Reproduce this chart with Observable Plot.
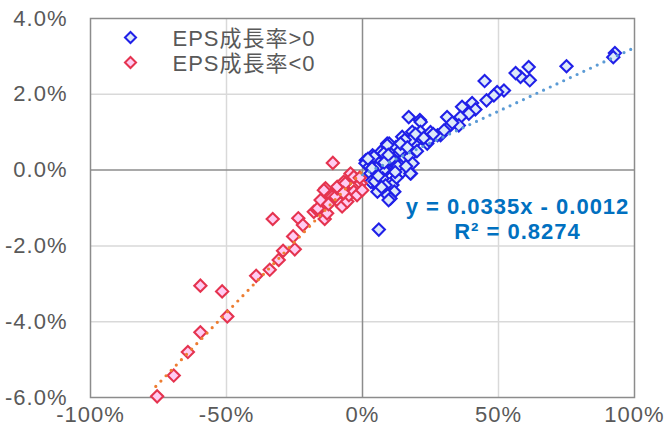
<!DOCTYPE html>
<html>
<head>
<meta charset="utf-8">
<script src="https://cdn.jsdelivr.net/npm/d3@7"></script>
<script src="https://cdn.jsdelivr.net/npm/@observablehq/plot@0.6"></script>
<style>
  html, body { margin: 0; padding: 0; background: #fff; }
  #chart { width: 665px; height: 436px; }
</style>
</head>
<body>
<div id="chart"></div>
<script>
// ---- Data (percent units) ----
const posX = [92.8, 92.2, 75.0, 61.1, 61.5, 58.1, 56.3, 52.0, 49.5, 48.3, 45.6, 44.9, 40.3, 41.5, 36.6, 39.1, 36.0, 31.1, 35.4, 31.7,
  28.7, 27.6, 17.0, 21.1, 21.4, 21.3, 18.3, 14.6, 23.8, 20.1, 24.4, 18.9, 17.8, 9.1, 9.8, 14.6, 12.3, 15.8, 8.0, 9.1,
  6.7, 7.8, 13.5, 3.7, 4.2, 15.2, 17.2, 1.2, 11.7, 11.5, 6.1, 18.4, 1.1, 2.5, 8.6, 7.8, 14.7, 17.8, 17.6, 3.7,
  2.9, 7.4, 3.1, 11.0, 6.1, 11.7, 5.5, 9.2, 10.3, 9.6, 6.0, 13.0, 5.0, 20.0, 25.0, 33.0, 4.5, 12.5, 16.0, 2.0, 8.5,
  10.5, 13.8, 19.5, 22.5, 5.8, 3.5, 8.0, 15.5, 12.0, 26.0, 30.0, 7.0, 9.5, 14.0, 16.5];
const posY = [3.09, 2.98, 2.74, 2.72, 2.37, 2.46, 2.56, 2.10, 2.06, 1.97, 1.84, 2.35, 1.77, 1.60, 1.67, 1.49, 1.40, 1.40, 1.18, 1.14,
  0.92, 0.92, 1.40, 1.32, 1.27, 1.01, 1.01, 0.88, 0.70, 0.79, 0.79, 0.70, 0.79, 0.70, 0.70, 0.61, 0.61, 0.57, 0.57, 0.66,
  0.48, 0.44, 0.44, 0.39, 0.35, 0.35, 0.35, 0.26, 0.26, 0.18, 0.18, 0.18, 0.18, 0.09, 0.00, 0.00, -0.04, -0.09, -0.09, -0.09,
  -0.09, -0.22, -0.31, -0.39, -0.48, -0.57, -0.57, -0.66, -0.75, -0.79, -1.57, 0.10, 0.05, 0.50, 1.00, 1.25, -0.30, -0.20, 0.10, 0.30, -0.40,
  0.30, 0.52, 0.95, 0.85, -0.15, 0.05, 0.20, 0.80, -0.05, 0.95, 1.05, -0.45, 0.40, 0.70, 0.60];

const negX = [-75.5, -69.4, -64.2, -59.6, -49.7, -51.6, -59.6, -39.1, -34.1, -30.8, -29.2, -24.9, -25.5, -33.0, -23.6, -21.9, -13.9, -10.9,
  -17.9, -16.7, -15.4, -13.0, -14.8, -16.4, -13.6, -14.2, -15.4, -11.1, -9.9, -9.3, -9.3, -8.1, -7.5, -6.9, -6.3, -5.6, -5.0, -5.0,
  -4.4, -3.2, -3.2, -2.0, -0.7, -0.1, -1.0, -12.5, -7.0];
const negY = [-5.97, -5.42, -4.80, -4.28, -3.86, -3.20, -3.05, -2.79, -2.63, -2.37, -2.13, -2.09, -1.75, -1.29, -1.27, -1.45, -1.29, 0.19,
  -1.10, -1.05, -0.96, -1.14, -0.79, -1.01, -0.48, -0.53, -0.79, -0.70, -0.70, -0.48, -0.44, -0.88, -0.96, -0.31, -0.35, -0.83, -0.61, -0.66,
  -0.09, -0.18, -0.57, -0.66, -0.35, -0.53, -0.20, -0.90, -0.60];

// Trend lines (fractional coefficients) and their x-ranges in percent
const posTrend = { slope: 0.0335, intercept: -0.0012, xRange: [0, 100] };
const negTrend = { slope: 0.0747, intercept: -0.0003, xRange: [-76, 0] };

const seriesNames = ["EPS成長率>0", "EPS成長率<0"];
const eqLines = ["y = 0.0335x - 0.0012", "R² = 0.8274"];

const xTicks = [-100, -50, 0, 50, 100];
const yTicks = [4, 2, 0, -2, -4, -6];

// ---- Build tables ----
const pos = posX.map((x, i) => ({x, y: posY[i]}));
const neg = negX.map((x, i) => ({x, y: negY[i]}));
const trendPts = t => t.xRange.map(x => ({x, y: (t.slope * x / 100 + t.intercept) * 100}));

const BLUE_S = "#2020e8", BLUE_F = "#dde9f8";
const RED_S = "#e5334f", RED_F = "#ffccf2";
const FONT = "'Liberation Sans', Arial, 'Noto Sans CJK JP', sans-serif";

const chart = Plot.plot({
  width: 665,
  height: 436,
  marginLeft: 90,
  marginRight: 31,
  marginTop: 18,
  marginBottom: 39,
  style: { fontFamily: FONT, fontSize: "22px", color: "#595959", background: "#fff", overflow: "visible" },
  x: { domain: [-100, 100] },
  y: { domain: [-6, 4] },
  marks: [
    Plot.gridX([-50, 50], { stroke: "#d9d9d9", strokeOpacity: 1, strokeWidth: 1.5 }),
    Plot.gridY([2, -2, -4], { stroke: "#d9d9d9", strokeOpacity: 1, strokeWidth: 1.5 }),
    Plot.ruleX([0], { stroke: "#8c8c8c", strokeWidth: 1.5 }),
    Plot.ruleY([0], { stroke: "#8c8c8c", strokeWidth: 1.5 }),
    Plot.frame({ stroke: "#8c8c8c", strokeWidth: 1.5 }),
    Plot.axisX(xTicks, { tickSize: 0, tickPadding: 9, tickFormat: d => d + "%", label: null, fill: "#595959", fontSize: 22 }),
    Plot.axisY(yTicks, { tickSize: 0, tickPadding: 23, tickFormat: d => d.toFixed(1) + "%", label: null, fill: "#595959", fontSize: 22 }),
    Plot.dot(pos, { x: "x", y: "y", symbol: "diamond2", r: 5.5, stroke: BLUE_S, fill: BLUE_F, strokeWidth: 2.1 }),
    Plot.dot(neg, { x: "x", y: "y", symbol: "diamond2", r: 5.5, stroke: RED_S, fill: RED_F, strokeWidth: 2.1 }),
    Plot.line(trendPts(posTrend), { x: "x", y: "y", stroke: "#5b9bd5", strokeWidth: 3.2, strokeDasharray: "0,7.4", strokeLinecap: "round" }),
    Plot.line(trendPts(negTrend), { x: "x", y: "y", stroke: "#ed7d31", strokeWidth: 3.2, strokeDasharray: "0,7.4", strokeLinecap: "round" }),
    // legend
    Plot.dot([seriesNames[0]], { frameAnchor: "top-left", dx: 40, dy: 19, symbol: "diamond2", r: 5, stroke: BLUE_S, fill: BLUE_F, strokeWidth: 2 }),
    Plot.dot([seriesNames[1]], { frameAnchor: "top-left", dx: 40, dy: 44, symbol: "diamond2", r: 5, stroke: RED_S, fill: RED_F, strokeWidth: 2 }),
    Plot.text([seriesNames[0]], { text: d => d, frameAnchor: "top-left", dx: 82, dy: 20, textAnchor: "start", lineAnchor: "middle", fill: "#595959", fontSize: 22 }),
    Plot.text([seriesNames[1]], { text: d => d, frameAnchor: "top-left", dx: 82, dy: 45, textAnchor: "start", lineAnchor: "middle", fill: "#595959", fontSize: 22 }),
    // equation
    Plot.text([eqLines.join("\n")], { text: d => d, frameAnchor: "top-right", dx: -117, dy: 199.5, textAnchor: "middle", lineAnchor: "middle", lineHeight: 1.14, fill: "#0070c0", fontWeight: "bold", fontSize: 22 })
  ]
});

document.getElementById("chart").appendChild(chart);

// text spacing tweaks
const svg = d3.select(chart);
svg.selectAll('g[aria-label="x-axis tick label"] text, g[aria-label="y-axis tick label"] text').style("letter-spacing", "1px");
svg.selectAll('g[aria-label="text"] text').style("letter-spacing", "1px");
</script>
</body>
</html>
